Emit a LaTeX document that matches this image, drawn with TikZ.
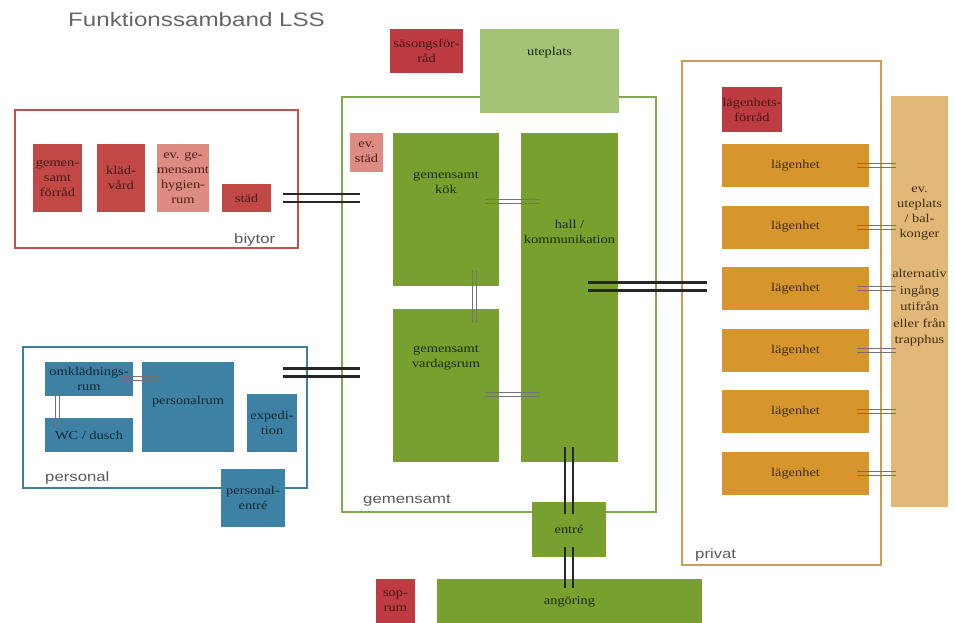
\documentclass[tikz,border=0pt]{standalone}
\usepackage{fontspec}
\setmainfont{Liberation Serif}[FakeStretch=1.2]
\newfontfamily\labelfont{Liberation Sans}[FakeStretch=1.24]
\usepackage{xcolor}
\usepackage{tikz}
\usetikzlibrary{positioning,calc}

\definecolor{lssred}{HTML}{C24846}
\definecolor{lssdeepred}{HTML}{BE3C41}
\definecolor{lsspink}{HTML}{DE8C82}
\definecolor{lssredframe}{HTML}{C4504E}
\definecolor{lssgreen}{HTML}{77A02E}
\definecolor{lsslightgreen}{HTML}{A3C376}
\definecolor{lssgreenframe}{HTML}{7FAA4A}
\definecolor{lssblue}{HTML}{3D82A5}
\definecolor{lssblueframe}{HTML}{3F7E9E}
\definecolor{lssorange}{HTML}{D6962D}
\definecolor{lsstan}{HTML}{E2B878}
\definecolor{lssorangeframe}{HTML}{D39A50}

\begin{document}
\begin{tikzpicture}[x=1pt, y=-1pt,
      box/.style={anchor=north west, inner sep=0pt, outer sep=0pt, align=center, font=\fontsize{12}{15}\selectfont},
      redbox/.style={box, fill=lssred, text=lssred!35!black},
      deepredbox/.style={box, fill=lssdeepred, text=lssdeepred!35!black},
      pinkbox/.style={box, fill=lsspink, text=lssred!40!black},
      greenbox/.style={box, fill=lssgreen, text=lssgreen!25!black},
      bluebox/.style={box, fill=lssblue, text=lssblue!30!black},
      orangebox/.style={box, fill=lssorange, text=lssorange!30!black},
      boxtext/.style={inner sep=0pt, align=center, font=\fontsize{12}{15}\selectfont},
      frame/.style={draw, line width=2.5pt, anchor=north west, inner sep=0pt, outer sep=0pt},
      grouplabel/.style={anchor=base west, inner sep=0pt, text=black!65, font=\labelfont\fontsize{13.5}{15}\selectfont},
      bigline/.style={line width=2.1pt, draw=black!85},
      smallline/.style={line width=1pt, draw=black!55}]
    \useasboundingbox (0,0) rectangle (955,623);

    \node[anchor=base west, inner sep=0pt, text=black!60, font=\labelfont\fontsize{19.5}{22}\selectfont] (title) at (68,27) {Funktionssamband LSS};

    \node[frame, draw=lssredframe, minimum width=283pt, minimum height=138pt] (biytor) at (15,110) {};
    \node[frame, draw=lssblueframe, minimum width=284pt, minimum height=141pt] (personal) at (23,347) {};
    \node[frame, draw=lssgreenframe, minimum width=314pt, minimum height=415pt] (gemensamt) at (342,97) {};
    \node[frame, draw=lssorangeframe, minimum width=199pt, minimum height=504pt] (privat) at (682,61) {};

    \node[grouplabel] (biytorlbl) at (234,243) {biytor};
    \node[grouplabel] (personallbl) at (45,481) {personal};
    \node[grouplabel] (gemensamtlbl) at (363,503) {gemensamt};
    \node[grouplabel] (privatlbl) at (695,558) {privat};

    \node[redbox, minimum width=49pt, minimum height=68pt] (forrad) at (33,144) {gemen-\\samt\\förråd};
    \node[redbox, minimum width=48pt, minimum height=68pt] (kladvard) at (97,144) {kläd-\\vård};
    \node[pinkbox, minimum width=51pt, minimum height=68pt] (hygien) at (157,144) {ev. ge-\\mensamt\\hygien-\\rum};
    \node[redbox, minimum width=49pt, minimum height=28pt] (stad) at (222,184) {städ};

    \node[bluebox, minimum width=88pt, minimum height=34pt] (omkl) at (45,362) {omklädnings-\\rum};
    \node[bluebox, minimum width=88pt, minimum height=34pt] (wc) at (45,418) {WC / dusch};
    \node[bluebox, minimum width=92pt, minimum height=90pt] (persrum) at (142,362) {};
    \node[boxtext, text=lssblue!30!black] (persrumtxt) at ($(persrum.north)+(0,40)$) {personalrum};
    \node[bluebox, minimum width=50pt, minimum height=58pt] (exped) at (247,394) {expedi-\\tion};
    \node[bluebox, minimum width=64pt, minimum height=58pt] (persentre) at (221,469) {personal-\\entré};

    \node[deepredbox, minimum width=73pt, minimum height=44pt] (sasong) at (390,29) {säsongsför-\\råd};
    \node[box, fill=lsslightgreen, minimum width=139pt, minimum height=84pt] (uteplats) at (480,29) {};
    \node[boxtext, text=lssgreen!25!black] (uteplatstxt) at ($(uteplats.north)+(0,24)$) {uteplats};
    \node[pinkbox, minimum width=33pt, minimum height=39pt] (evstad) at (350,133) {ev.\\städ};
    \node[greenbox, minimum width=106pt, minimum height=153pt] (kok) at (393,133) {};
    \node[boxtext, text=lssgreen!25!black] (koktxt) at ($(kok.north)+(0,50)$) {gemensamt\\kök};
    \node[greenbox, minimum width=106pt, minimum height=153pt] (vardag) at (393,309) {};
    \node[boxtext, text=lssgreen!25!black] (vardagtxt) at ($(vardag.north)+(0,49)$) {gemensamt\\vardagsrum};
    \node[greenbox, minimum width=97pt, minimum height=329pt] (hall) at (521,133) {};
    \node[boxtext, text=lssgreen!25!black] (halltxt) at ($(hall.north)+(0,99)$) {hall /\\kommunikation};
    \node[greenbox, minimum width=74pt, minimum height=55pt] (entre) at (532,502) {entré};
    \node[deepredbox, minimum width=39pt, minimum height=44pt] (sop) at (376,579) {sop-\\rum};
    \node[greenbox, minimum width=265pt, minimum height=44pt] (angoring) at (437,579) {};
    \node[boxtext, text=lssgreen!25!black] (angoringtxt) at ($(angoring.north)+(0,23)$) {angöring};

    \node[deepredbox, minimum width=60pt, minimum height=45pt] (lghforrad) at (722,87) {lägenhets-\\förråd};
    \foreach \i in {0,...,5}
      \node[orangebox, minimum width=147pt, minimum height=43pt] (lgh\i) at (722,{144+61.6*\i}) {lägenhet};
    \node[box, fill=lsstan, minimum width=57pt, minimum height=411pt] (col) at (891,96) {};
    \node[boxtext, text=lssorange!30!black] (coltxt) at ($(col.north)+(0,117)$) {ev.\\uteplats\\/ bal-\\konger};
    \node[boxtext, text=lssorange!30!black, font=\fontsize{12}{16.5}\selectfont] (alttxt) at ($(col.north)+(0,212)$) {alternativ\\ingång\\utifrån\\eller från\\trapphus};

    \foreach \d in {-4,4} {
      \draw[bigline] ($(biytor.east |- stad.center)+(-15,\d)$) -- ($(gemensamt.west |- stad.center)+(18,\d)$);
      \draw[bigline] ($(personal.east)+(-24,-45+\d)$) -- ($(gemensamt.west |- personal.east)+(18,-45+\d)$);
      \draw[bigline] ($(hall.east)+(-30,-11+\d)$) -- ($(privat.west |- hall.east)+(25,-11+\d)$);
      \draw[bigline] ($(hall.south -| entre.north)+(\d,-15)$) -- ($(entre.north)+(\d,12)$);
      \draw[bigline] ($(entre.south)+(\d,-10)$) -- ($(angoring.north -| entre.south)+(\d,9)$);
    }
    \foreach \d in {-2,2} {
      \draw[smallline] ($(kok.east)+(-14,-8+\d)$) -- ($(hall.west |- kok.east)+(19,-8+\d)$);
      \draw[smallline] ($(vardag.east)+(-14,9+\d)$) -- ($(hall.west |- vardag.east)+(19,9+\d)$);
      \draw[smallline] ($(kok.south)+(28+\d,-16)$) -- ($(vardag.north)+(28+\d,14)$);
      \draw[smallline] ($(omkl.east)+(-12,-1+\d)$) -- ($(persrum.west |- omkl.east)+(17,-1+\d)$);
      \draw[smallline] ($(omkl.south west)+(12+\d,-6)$) -- ($(wc.north west)+(12+\d,10)$);
      \foreach \i in {0,...,5}
        \draw[smallline] ($(lgh\i.east)+(-12,\d)$) -- ($(col.west |- lgh\i.east)+(5,\d)$);
    }
  \end{tikzpicture}
\end{document}
